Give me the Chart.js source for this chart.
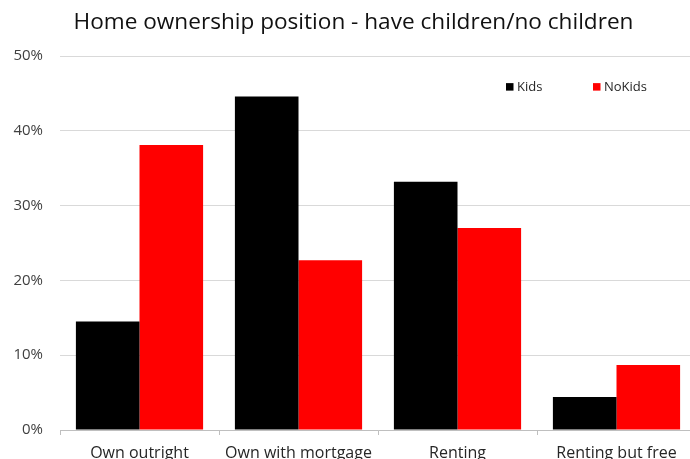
<!DOCTYPE html>
<html>
<head>
<meta charset="utf-8">
<script src="https://cdn.jsdelivr.net/npm/chart.js@4/dist/chart.umd.min.js"></script>
<style>
  html, body { margin: 0; padding: 0; background: #fff; overflow: hidden; }
  #wrap { width: 712px; height: 459px; position: relative; }
</style>
</head>
<body>
<div id="wrap"><canvas id="myChart"></canvas></div>
<script>
const categories = ['Own outright', 'Own with mortgage', 'Renting', 'Renting but free'];
const kids = [14.5, 44.6, 33.2, 4.4];
const noKids = [38.1, 22.7, 27.0, 8.7];
const yTicks = [0, 10, 20, 30, 40, 50];

// small square legend sitting inside the plot, top right
const boxLegend = {
    id: 'boxLegend',
    afterDraw(chart) {
        const ctx = chart.ctx;
        const area = chart.chartArea;
        const y = area.top + 31;
        ctx.save();
        ctx.font = '13px "Open Sans"';
        ctx.textBaseline = 'middle';
        chart.data.datasets.forEach((ds, i) => {
            const x = area.right - 190 + i * 87;
            ctx.fillStyle = ds.backgroundColor;
            ctx.fillRect(x, y - 4, 7.5, 7.5);
            ctx.fillStyle = '#262626';
            ctx.fillText(ds.label, x + 11, y);
        });
        ctx.restore();
    }
};

const ctx = document.getElementById('myChart');
new Chart(ctx,
{
    type: 'bar',
    data:
    {
        labels: categories,
        datasets:
        [
            { label: 'Kids', data: kids, backgroundColor: '#000000', borderWidth: 0 },
            { label: 'NoKids', data: noKids, backgroundColor: '#ff0000', borderWidth: 0 }
        ]
    },
    options:
    {
        responsive: true,
        maintainAspectRatio: false,
        animation: false,
        layout: { padding: { left: 11, right: 16, top: 0, bottom: 0 } },
        plugins:
        {
            legend: { display: false },
            tooltip: { enabled: false },
            title:
            {
                display: true,
                text: 'Home ownership position - have children/no children',
                color: '#111111',
                font: { family: '"Open Sans"', size: 22.6, weight: 'normal' },
                padding: { top: 9, bottom: 20 }
            }
        },
        datasets: { bar: { categoryPercentage: 0.8, barPercentage: 1.0 } },
        scales:
        {
            x:
            {
                grid: { offset: true, drawOnChartArea: false, tickLength: 5, color: '#bfbfbf' },
                border: { color: '#bfbfbf' },
                ticks: { color: '#262626', font: { family: '"Open Sans"', size: 16 }, padding: 9, maxRotation: 0, autoSkip: false },
                afterFit(scale) { scale.height = 29; }
            },
            y:
            {
                min: 0,
                max: 50,
                afterBuildTicks(scale) { scale.ticks = yTicks.map(v => ({ value: v })); },
                grid: { color: '#d9d9d9', drawTicks: false },
                border: { display: false },
                ticks: { color: '#404040', font: { family: '"Open Sans"', size: 15 }, padding: 17, callback: v => v + '%' },
                afterFit(scale) { scale.width = 49; }
            }
        }
    },
    plugins: [boxLegend]
});
</script>
</body>
</html>
